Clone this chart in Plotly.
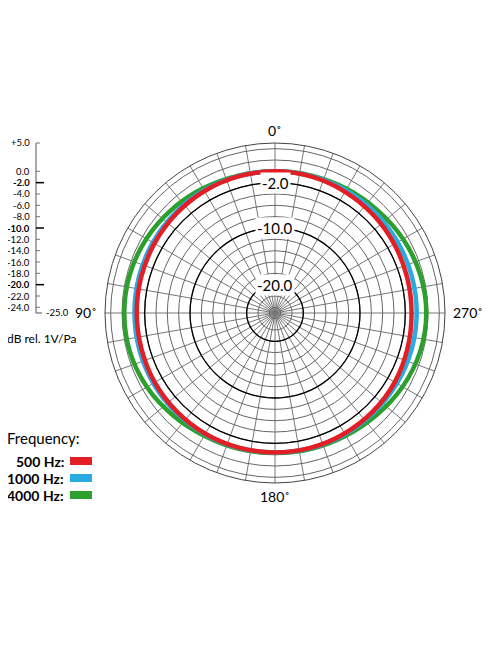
import plotly.graph_objects as go

W, H = 496, 664
theta = [0, 15, 30, 45, 60, 75, 90, 105, 120, 135, 150, 165, 180,
         195, 210, 225, 240, 255, 270, 285, 300, 315, 330, 345, 360]
r_500 = [0, -0.05, -0.15, -0.3, -0.45, -0.55, -0.6, -0.6, -0.5, -0.45, -0.4, -0.4, -0.4,
         -0.4, -0.45, -0.5, -0.6, -0.8, -0.9, -0.85, -0.7, -0.5, -0.3, -0.1, 0]
r_1000 = [0, 0, 0, -0.05, -0.1, -0.15, -0.2, -0.2, -0.2, -0.25, -0.3, -0.35, -0.4,
          -0.35, -0.3, -0.25, -0.15, -0.05, 0, 0, 0, 0, 0, 0, 0]
r_4000 = [0, 0.1, 0.4, 0.8, 1.2, 1.5, 1.6, 1.5, 1.1, 0.5, 0.0, -0.2, -0.3,
          -0.2, 0.0, 0.4, 1.0, 1.5, 1.7, 1.5, 1.1, 0.6, 0.3, 0.1, 0]
scale_ticks = [5, 0, -2, -4, -6, -8, -10, -12, -14, -16, -18, -20, -22, -24]
bold_ticks = [-2, -10, -20]

fig = go.Figure()
for name, r, c in [("4000 Hz", r_4000, "#2ca02c"), ("1000 Hz", r_1000, "#29abe2"),
                   ("500 Hz", r_500, "#e31e24")]:
    fig.add_trace(go.Scatterpolar(r=r, theta=theta, mode="lines", name=name,
                                  line=dict(color=c, width=4.5, shape="spline")))
# bold rings
for b in bold_ticks:
    fig.add_trace(go.Scatterpolar(r=[b] * 73, theta=list(range(0, 361, 5)), mode="lines",
                                  line=dict(color="black", width=1.3), showlegend=False))

OFF = 8  # page body margin
cx, cy, R = 275, 313, 170
def px(x): return (x - OFF) / W
def py(y): return 1 - (y - OFF) / H

fig.update_layout(
    width=W, height=H, margin=dict(l=0, r=0, t=0, b=0), showlegend=False,
    paper_bgcolor="white", font=dict(family="Lato", color="black"),
    polar=dict(
        domain=dict(x=[px(cx - R), px(cx + R)], y=[py(cy + R), py(cy - R)]),
        bgcolor="white",
        radialaxis=dict(range=[-25, 5], tickvals=list(range(-24, 6, 2)), showticklabels=False,
                        ticks="", gridcolor="#666", gridwidth=0.6, showline=False),
        angularaxis=dict(rotation=90, direction="counterclockwise", dtick=10,
                         showticklabels=False, ticks="", gridcolor="#777", gridwidth=0.6,
                         linecolor="#444", linewidth=1),
    ),
)

ann = []
def note(x, y, text, size, xa="center", **kw):
    ann.append(dict(x=px(x), y=py(y), xref="paper", yref="paper", text=text,
                    showarrow=False, xanchor=xa, yanchor="middle", font=dict(size=size), **kw))

k = R / 30
for b in bold_ticks:
    note(cx, cy - (b + 25) * k, f"{b:.1f}", 15, bgcolor="white", borderpad=1)
note(cx, cy - R - 12, "0˚", 14)
note(cx, cy + R + 13, "180˚", 14)
note(cx - R - 6, cy, "90˚", 14, "right")
note(cx + R + 6, cy, "270˚", 14, "left")

# left dB scale
shapes = [dict(type="line", xref="paper", yref="paper", x0=px(36), x1=px(36),
               y0=py(cy - 30 * k), y1=py(cy), line=dict(color="#555", width=1)),
          dict(type="line", xref="paper", yref="paper", x0=px(36), x1=px(42),
               y0=py(cy), y1=py(cy), line=dict(color="#555", width=1))]
for v in scale_ticks:
    yy = cy - (v + 25) * k
    bold = v in bold_ticks
    shapes.append(dict(type="line", xref="paper", yref="paper", x0=px(36),
                       x1=px(44 if bold else 40), y0=py(yy), y1=py(yy),
                       line=dict(color="black" if bold else "#555", width=1.5 if bold else 0.8)))
    txt = "+5.0" if v == 5 else f"{v:.1f}"
    note(32, yy, f"<b>{txt}</b>" if bold else txt, 9.5, "right")
note(44, cy, "-25.0", 9.5, "left")
note(5, 338, "dB rel. 1V/Pa", 12, "left")

# frequency legend
note(5, 438, "Frequency:", 15, "left")
for i, (t, c) in enumerate([("500 Hz:", "#e31e24"), ("1000 Hz:", "#29abe2"),
                            ("4000 Hz:", "#2ca02c")]):
    yy = 461 + i * 17
    note(66, yy, f"<b>{t}</b>", 14, "right")
    shapes.append(dict(type="rect", xref="paper", yref="paper", x0=px(70), x1=px(92),
                       y0=py(yy + 4), y1=py(yy - 4), fillcolor=c, line=dict(width=0)))

fig.update_layout(annotations=ann, shapes=shapes)
fig.write_html("out.html")
